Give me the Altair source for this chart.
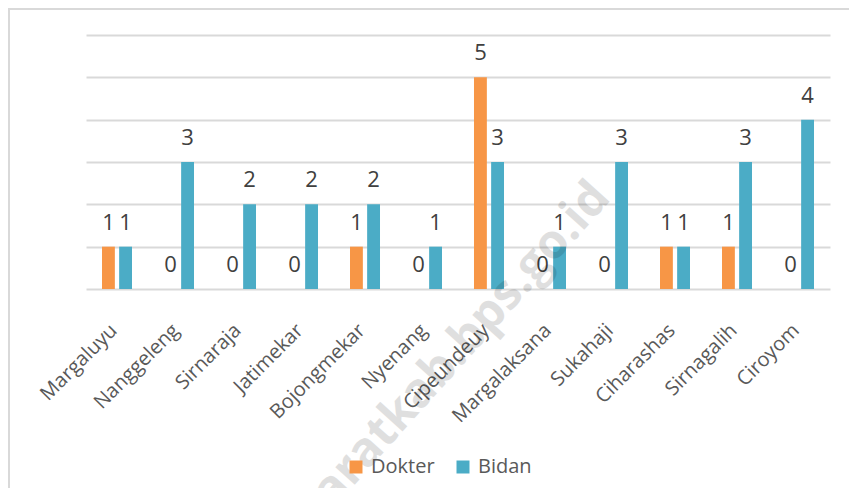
import altair as alt
import pandas as pd

categories = ["Margaluyu", "Nanggeleng", "Sirnaraja", "Jatimekar", "Bojongmekar", "Nyenang",
              "Cipeundeuy", "Margalaksana", "Sukahaji", "Ciharashas", "Sirnagalih", "Ciroyom"]
dokter = [1, 0, 0, 0, 1, 0, 5, 0, 0, 1, 1, 0]
bidan = [1, 3, 2, 2, 2, 1, 3, 1, 3, 1, 3, 4]
series = ["Dokter", "Bidan"]
colors = ["#F79646", "#4BACC6"]
watermark = "bandungbaratkab.bps.go.id"

rows = []
for c, d, b in zip(categories, dokter, bidan):
    rows.append({"Desa": c, "Seri": "Dokter", "Nilai": d})
    rows.append({"Desa": c, "Seri": "Bidan", "Nilai": b})
df = pd.DataFrame(rows)

FONT = "Open Sans"
TXT = "#595959"

x_enc = alt.X("Desa:N", sort=categories,
              scale=alt.Scale(paddingInner=0.516, paddingOuter=0.258),
              axis=alt.Axis(title=None, labelAngle=-45, labelFontSize=20, labelColor=TXT,
                            labelFont=FONT, ticks=False, domain=False, labelPadding=38,
                            labelOffset=-3,
                            labelAlign="right", labelBaseline="middle", grid=False))
y_enc = alt.Y("Nilai:Q", scale=alt.Scale(domain=[0, 6], nice=False),
              axis=alt.Axis(title=None, labels=False, ticks=False, domain=False,
                            values=[0, 1, 2, 3, 4, 5, 6], grid=True,
                            gridColor="#D9D9D9", gridWidth=1.8))
xoff = alt.XOffset("Seri:N", sort=series, scale=alt.Scale(paddingInner=0.25, paddingOuter=0))

base = alt.Chart(df)

bars = base.mark_bar().encode(
    x=x_enc, y=y_enc, xOffset=xoff,
    color=alt.Color("Seri:N", sort=series,
                    scale=alt.Scale(domain=series, range=colors),
                    legend=alt.Legend(title=None, orient="none", direction="horizontal",
                                      legendX=260, legendY=422, symbolType="square",
                                      symbolSize=169, symbolStrokeWidth=0,
                                      labelFontSize=20, labelColor=TXT, labelFont=FONT,
                                      labelOffset=5, columnPadding=18)),
)

labels = base.mark_text(fontSize=22, font=FONT, color="#404040", baseline="middle", dy=-24).encode(
    x=alt.X("Desa:N", sort=categories), y="Nilai:Q", xOffset=xoff, text="Nilai:Q"
)

one = alt.Chart(pd.DataFrame({"t": [watermark]}))
border = one.mark_rect(fill="transparent", stroke="#D9D9D9", strokeWidth=2).encode(
    x=alt.value(-77), x2=alt.value(800), y=alt.value(-26), y2=alt.value(520)
)
wm = one.mark_text(fontSize=48, font=FONT, fontWeight="bold", color="#000000", opacity=0.12,
                   align="right", baseline="alphabetic", angle=312).encode(
    x=alt.value(526), y=alt.value(164), text="t:N"
)

chart = alt.layer(bars, labels, wm, border).properties(
    width=744, height=254,
    autosize=alt.AutoSizeParams(type="none"),
    padding={"left": 78, "top": 27, "right": 19, "bottom": 199},
    background="white",
).configure_view(stroke=None)

chart.save("out.html", embed_options={"renderer": "svg", "actions": False})
